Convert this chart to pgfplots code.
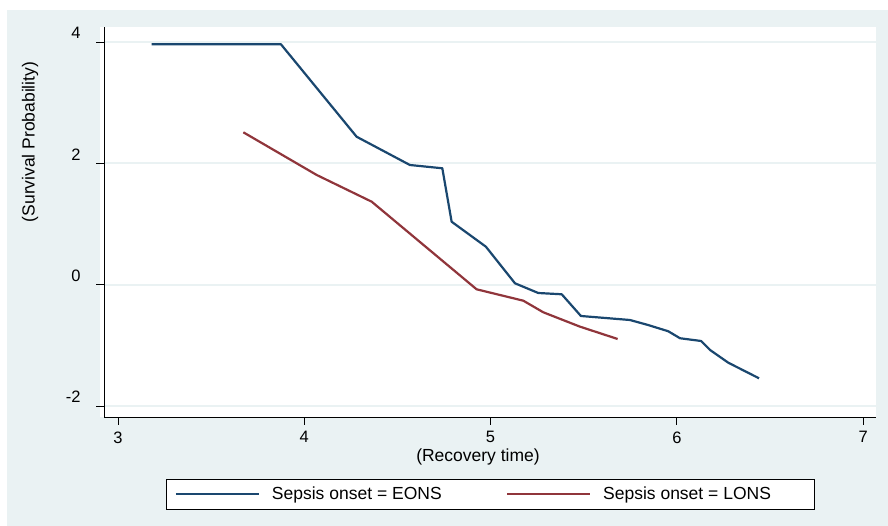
\documentclass[border=0pt]{standalone}
\usepackage{fontspec}
\setmainfont{Liberation Sans}
\usepackage{pgfplots}
\pgfplotsset{compat=1.18}
\definecolor{stbg}{HTML}{EAF2F3}
\definecolor{stnavy}{HTML}{1A476F}
\definecolor{stmaroon}{HTML}{90353B}

\begin{document}
\begin{tikzpicture}[x=1bp,y=1bp]
% outer frame and plot region
\fill[white] (0,0) rectangle (888,526);
\fill[stbg] (7,0) rectangle (888,516);
\fill[white] (100,109) rectangle (876,499);
\coordinate (origin) at (104,109);
\begin{axis}[
  at={(origin)}, anchor=south west,
  width=772bp, height=390bp, scale only axis,
  xmin=2.925, xmax=7.069, ymin=-2.181, ymax=4.248,
  axis x line*=bottom, axis y line*=left,
  axis line style={line width=0.8bp, black},
  xtick={3,4,5,6,7}, xticklabels={3,4,5,6,7},
  ytick={-2,0,2,4}, yticklabels={-2,0,2,4},
  tick align=outside, major tick length=8bp,
  tick style={line width=0.8bp, black},
  ymajorgrids, grid style={stbg, line width=1.8bp},
  tick label style={font=\fontsize{16.5bp}{19bp}\selectfont},
  yticklabel style={xshift=-12bp, yshift=9bp},
  xticklabel style={yshift=-3bp},
  legend style={at={(axis description cs:0.5006,-0.1974)}, anchor=center,
    draw=black, line width=0.8bp, fill=white,
    inner xsep=8bp, inner ysep=6bp,
    font=\fontsize{17.5bp}{20bp}\selectfont,
    /tikz/every odd column/.append style={column sep=10bp},
    /tikz/every even column/.append style={column sep=31bp}},
  legend columns=2,
  legend image code/.code={\draw[#1] (0bp,0bp) -- (83bp,0bp);},
]
\addplot[stnavy, line width=2.2bp, line join=round] coordinates {
  (3.181,3.962) (3.875,3.962) (4.281,2.439) (4.567,1.973) (4.741,1.919)
  (4.791,1.038) (4.975,0.626) (5.131,0.023) (5.256,-0.137) (5.382,-0.158)
  (5.485,-0.516) (5.748,-0.582) (5.846,-0.665) (5.954,-0.768) (6.017,-0.883)
  (6.130,-0.928) (6.178,-1.076) (6.276,-1.286) (6.441,-1.543)
};
\addlegendentry{\makebox[201bp][l]{Sepsis onset = EONS}}
\addplot[stmaroon, line width=2.2bp, line join=round] coordinates {
  (3.673,2.512) (4.067,1.808) (4.362,1.368) (4.925,-0.076) (5.176,-0.264)
  (5.283,-0.455) (5.480,-0.692) (5.682,-0.895)
};
\addlegendentry{\makebox[201bp][l]{Sepsis onset = LONS}}
\end{axis}
\node[rotate=90, font=\fontsize{17.5bp}{20bp}\selectfont] at (30,384) {(Survival Probability)};
\node[font=\fontsize{17.5bp}{20bp}\selectfont] at (478,69) {(Recovery time)};
\pgfresetboundingbox
\path[use as bounding box] (0,0) rectangle (888,526);
\end{tikzpicture}
\end{document}
